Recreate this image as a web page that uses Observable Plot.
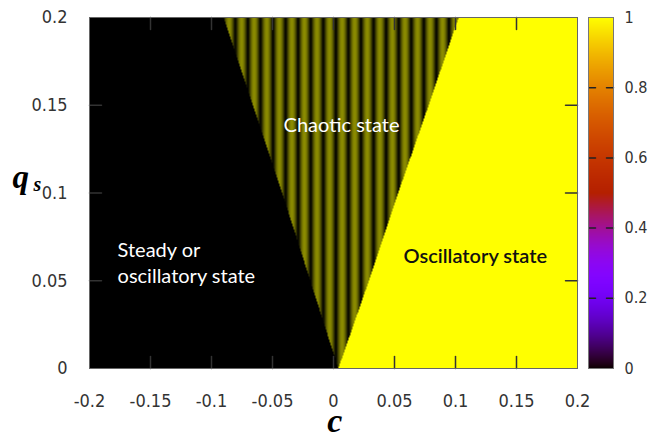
<!DOCTYPE html>
<html><head><meta charset="utf-8">
<script src="https://cdn.jsdelivr.net/npm/d3@7"></script>
<script src="https://cdn.jsdelivr.net/npm/@observablehq/plot@0.6"></script>
<style>
html,body{margin:0;padding:0;background:#fff;}
#wrap{position:relative;width:649px;height:441px;overflow:hidden;background:#fff;}
#wrap svg{position:absolute;top:0;}
</style></head><body><div id="wrap"></div>
<script>
// tick labels
const xTicks = [-0.2, -0.15, -0.1, -0.05, 0, 0.05, 0.1, 0.15, 0.2];
const yTicks = [0, 0.05, 0.1, 0.15, 0.2];
const cbTicks = [0, 0.2, 0.4, 0.6, 0.8, 1];
// region boundaries (q_s -> c)
const qBoundary = [0, 0.05, 0.1, 0.15, 0.2];
const cLeft  = [0.004, -0.019, -0.042, -0.066, -0.090];
const cRight = [0.004, 0.029, 0.053, 0.078, 0.1025];
// chaotic-state stripe texture
const stripePeriod = 0.0103;
const stripePhase = -0.0238;
const stripePeak = 0.55;
// region annotations
const labels = ["Chaotic state", "Steady or\noscillatory state", "Oscillatory state"];
const labelC = [0.0066, -0.177, 0.0574];
const labelQ = [0.1385, 0.0607, 0.0638];

const left = d3.scaleLinear(qBoundary, cLeft);
const right = d3.scaleLinear(qBoundary, cRight);
function stateValue(c, q) {
  if (c < left(q)) return 0;
  if (c > right(q)) return 1;
  const ph = (c - stripePhase) / stripePeriod;
  return stripePeak * Math.pow(0.5 + 0.5 * Math.cos(2 * Math.PI * ph), 0.6);
}
const gnuplot = t => `rgb(${Math.round(255 * Math.sqrt(t))},${Math.round(255 * t * t * t)},${Math.round(255 * Math.max(0, Math.sin(2 * Math.PI * t)))})`;
const tickShape = {draw(ctx, l) { ctx.moveTo(0, 0); ctx.lineTo(0, -l); }};
const tickFont = "'DejaVu Sans Condensed', 'DejaVu Sans', sans-serif";
const tickSize = 18;
const cbTickSize = 16;
const serif = "'Liberation Serif', 'DejaVu Serif', serif";
const annFont = "Lato, sans-serif";
const ann = labels.map((t, i) => ({t, c: labelC[i], q: labelQ[i]}));

const main = Plot.plot({
  width: 649, height: 441,
  marginLeft: 89, marginRight: 72, marginTop: 17, marginBottom: 73,
  style: {fontFamily: tickFont, fontSize: tickSize + "px", color: "#333", background: "transparent"},
  x: {domain: [-0.2, 0.2], label: null},
  y: {domain: [0, 0.2], label: null},
  color: {type: "linear", domain: [0, 1], range: ["black", "yellow"], interpolate: "rgb"},
  marks: [
    Plot.raster({fill: stateValue, x1: -0.2, x2: 0.2, y1: 0, y2: 0.2, pixelSize: 1}),
    Plot.text(ann.slice(0, 1), {x: "c", y: "q", text: "t", fill: "white", fontSize: 20, fontFamily: annFont, textAnchor: "middle"}),
    Plot.text(ann.slice(1, 2), {x: "c", y: "q", text: "t", fill: "white", fontSize: 20, fontFamily: annFont, textAnchor: "start", lineHeight: 1.3}),
    Plot.text(ann.slice(2, 3), {x: "c", y: "q", text: "t", fill: "#111", fontSize: 20, fontWeight: 600, fontFamily: annFont, textAnchor: "start"}),
    Plot.vector(xTicks.slice(1, -1), {x: d => d, frameAnchor: "bottom", rotate: 0, length: 12, anchor: "start", shape: tickShape, stroke: "#333"}),
    Plot.vector(xTicks.slice(1, -1), {x: d => d, frameAnchor: "top", rotate: 180, length: 12, anchor: "start", shape: tickShape, stroke: "#333"}),
    Plot.vector(yTicks.slice(1, -1), {y: d => d, frameAnchor: "left", rotate: 90, length: 12, anchor: "start", shape: tickShape, stroke: "#333"}),
    Plot.vector(yTicks.slice(1, -1), {y: d => d, frameAnchor: "right", rotate: -90, length: 12, anchor: "start", shape: tickShape, stroke: "#333"}),
    Plot.frame({stroke: "#666"}),
    Plot.axisX(xTicks, {tickSize: 0, tickPadding: 26, tickFormat: d => String(d), fontSize: tickSize, fill: "#333", label: null}),
    Plot.axisY(yTicks, {tickSize: 0, tickPadding: 22, tickFormat: d => String(d), fontSize: tickSize, fill: "#333", label: null}),
    Plot.text(["c"], {x: 0.001, frameAnchor: "bottom", dy: 63, text: d => d, fontSize: 34, fontWeight: "bold", fontStyle: "italic", fontFamily: serif, fill: "#000"}),
    Plot.text(["q"], {y: 0.1, frameAnchor: "left", dx: -77, dy: -16, textAnchor: "start", text: d => d, fontSize: 33, fontWeight: "bold", fontStyle: "italic", fontFamily: serif, fill: "#000"}),
    Plot.text(["s"], {y: 0.1, frameAnchor: "left", dx: -56, dy: -8, textAnchor: "start", text: d => d, fontSize: 20, fontWeight: "bold", fontStyle: "italic", fontFamily: serif, fill: "#000"})
  ]
});
main.style.left = "0px";

const cb = Plot.plot({
  width: 61, height: 441,
  marginLeft: 0, marginRight: 36, marginTop: 17, marginBottom: 73,
  style: {fontFamily: tickFont, fontSize: cbTickSize + "px", color: "#333", background: "transparent"},
  x: {domain: [0, 1], axis: null, label: null},
  y: {domain: [0, 1], label: null},
  color: {type: "linear", domain: [0, 1], interpolate: gnuplot},
  marks: [
    Plot.raster({fill: (x, y) => y, x1: 0, x2: 1, y1: 0, y2: 1, pixelSize: 1}),
    Plot.vector(cbTicks.slice(1, -1), {y: d => d, frameAnchor: "left", rotate: 90, length: 7, anchor: "start", shape: tickShape, stroke: "#222"}),
    Plot.vector(cbTicks.slice(1, -1), {y: d => d, frameAnchor: "right", rotate: -90, length: 7, anchor: "start", shape: tickShape, stroke: "#222"}),
    Plot.frame({stroke: "#777"}),
    Plot.axisY(cbTicks, {anchor: "right", tickSize: 0, tickPadding: 11, tickFormat: d => String(d), fontSize: cbTickSize, fill: "#333", label: null})
  ]
});
cb.style.left = "588px";

const wrap = document.getElementById("wrap");
wrap.appendChild(main);
wrap.appendChild(cb);
</script>
</body></html>
